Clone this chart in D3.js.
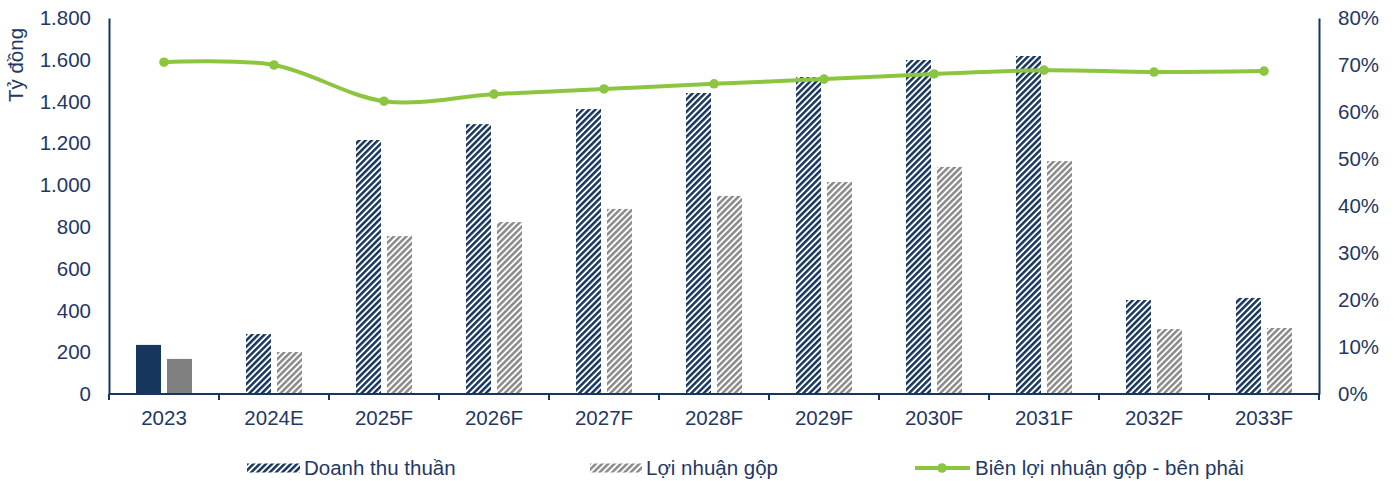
<!DOCTYPE html>
<html>
<head>
<meta charset="utf-8">
<script src="https://cdn.jsdelivr.net/npm/d3@7"></script>
<style>
  html, body { margin: 0; padding: 0; background: #fff; }
  svg { display: block; font-family: "Liberation Sans", Arial, sans-serif; }
</style>
</head>
<body>
<svg id="chart" width="1397" height="481"></svg>
<script>
// Categories and series
const years = ["2023", "2024E", "2025F", "2026F", "2027F", "2028F", "2029F", "2030F", "2031F", "2032F", "2033F"];
const revenue = [235, 287, 1216, 1292, 1364, 1441, 1517, 1599, 1618, 450, 460];      // Doanh thu thuần
const grossProfit = [168, 201, 756, 823, 886, 948, 1015, 1087, 1115, 311, 316];        // Lợi nhuận gộp
const grossMargin = [0.706, 0.700, 0.623, 0.638, 0.649, 0.660, 0.670, 0.681, 0.689, 0.685, 0.687]; // Biên lợi nhuận gộp
const leftTicks = [0, 200, 400, 600, 800, 1000, 1200, 1400, 1600, 1800];
const rightTicks = [0, 0.1, 0.2, 0.3, 0.4, 0.5, 0.6, 0.7, 0.8];
const seriesNames = ["Doanh thu thuần", "Lợi nhuận gộp", "Biên lợi nhuận gộp - bên phải"];
const yTitle = "Tỷ đồng";

const NAVY = "#17365d";
const GRAY = "#808080";
const GREEN = "#8cc641";
const TEXT = "#1f3864";
const FS = "20.5px";

const svg = d3.select("#chart");
const plotL = 109, plotR = 1319, plotT = 18, plotB = 394;

const x = d3.scaleBand().domain(years).range([plotL, plotR]);
const y = d3.scaleLinear().domain([0, 1800]).range([plotB, plotT]);
const y2 = d3.scaleLinear().domain([0, 0.8]).range([plotB, plotT]);

const vn = d3.formatLocale({ decimal: ",", thousands: ".", grouping: [3], currency: ["", "₫"] });
const fmtNum = vn.format(",d");
const fmtPct = d3.format(".0%");

// Diagonal stripe patterns
const defs = svg.append("defs");
function stripes(id, color) {
  const p = defs.append("pattern")
    .attr("id", id)
    .attr("patternUnits", "userSpaceOnUse")
    .attr("width", 4.4).attr("height", 4.4)
    .attr("patternTransform", "rotate(45)");
  p.append("rect").attr("width", 4.4).attr("height", 4.4).attr("fill", "#fff");
  p.append("rect").attr("width", 2.5).attr("height", 4.4).attr("fill", color);
}
stripes("hatchNavy", NAVY);
stripes("hatchGray", "#8a8a8a");

// Bars
const barW = 25, gap = 6;
const barG = svg.append("g");
years.forEach((yr, i) => {
  const cx = x(yr) + x.bandwidth() / 2;
  const solid = i === 0;
  barG.append("rect")
    .attr("x", cx - gap / 2 - barW).attr("width", barW)
    .attr("y", y(revenue[i])).attr("height", y(0) - y(revenue[i]))
    .attr("fill", solid ? NAVY : "url(#hatchNavy)");
  barG.append("rect")
    .attr("x", cx + gap / 2).attr("width", barW)
    .attr("y", y(grossProfit[i])).attr("height", y(0) - y(grossProfit[i]))
    .attr("fill", solid ? GRAY : "url(#hatchGray)");
});

// Axes
const axisL = svg.append("g").attr("transform", `translate(${plotL},0)`)
  .call(d3.axisLeft(y).tickValues(leftTicks).tickFormat(fmtNum).tickSize(0).tickPadding(18));
const axisR = svg.append("g").attr("transform", `translate(${plotR},0)`)
  .call(d3.axisRight(y2).tickValues(rightTicks).tickFormat(fmtPct).tickSize(0).tickPadding(19));
[axisL, axisR].forEach(g => {
  g.select(".domain").attr("stroke", NAVY).attr("stroke-width", 2);
  g.selectAll("text").attr("fill", TEXT).style("font-size", FS);
});

// Category axis with boundary ticks
const axisB = svg.append("g").attr("transform", `translate(0,${plotB})`);
axisB.append("line").attr("x1", plotL).attr("x2", plotR).attr("stroke", NAVY).attr("stroke-width", 2);
const bounds = years.map(d => x(d)).concat([plotR]);
axisB.selectAll("line.tick").data(bounds).join("line")
  .attr("class", "tick")
  .attr("x1", d => d).attr("x2", d => d).attr("y1", 0).attr("y2", 6)
  .attr("stroke", NAVY).attr("stroke-width", 2);
axisB.selectAll("text").data(years).join("text")
  .attr("x", d => x(d) + x.bandwidth() / 2).attr("y", 31)
  .attr("text-anchor", "middle").attr("fill", TEXT).style("font-size", FS)
  .text(d => d);

// Y axis title
svg.append("text")
  .attr("transform", "translate(23,65) rotate(-90)")
  .attr("text-anchor", "middle").attr("fill", TEXT).style("font-size", FS)
  .text(yTitle);

// Margin line (right axis)
const line = d3.line()
  .x((d, i) => x(years[i]) + x.bandwidth() / 2)
  .y(d => y2(d))
  .curve(d3.curveCatmullRom.alpha(0));
svg.append("path").datum(grossMargin)
  .attr("d", line).attr("fill", "none").attr("stroke", GREEN).attr("stroke-width", 4);
svg.append("g").selectAll("circle").data(grossMargin).join("circle")
  .attr("cx", (d, i) => x(years[i]) + x.bandwidth() / 2)
  .attr("cy", d => y2(d)).attr("r", 4.8).attr("fill", GREEN);

// Legend
const lg = svg.append("g");
const ly = 468;
lg.append("rect").attr("x", 247).attr("y", ly - 4.5).attr("width", 53).attr("height", 9).attr("fill", "url(#hatchNavy)");
lg.append("text").attr("x", 304).attr("y", ly + 7).attr("fill", TEXT).style("font-size", FS).text(seriesNames[0]);
lg.append("rect").attr("x", 590).attr("y", ly - 4.5).attr("width", 52).attr("height", 9).attr("fill", "url(#hatchGray)");
lg.append("text").attr("x", 646).attr("y", ly + 7).attr("fill", TEXT).style("font-size", FS).text(seriesNames[1]);
lg.append("line").attr("x1", 915).attr("x2", 970).attr("y1", ly).attr("y2", ly).attr("stroke", GREEN).attr("stroke-width", 4);
lg.append("circle").attr("cx", 942).attr("cy", ly).attr("r", 4.8).attr("fill", GREEN);
lg.append("text").attr("x", 975).attr("y", ly + 7).attr("fill", TEXT).style("font-size", FS).text(seriesNames[2]);
</script>
</body>
</html>
